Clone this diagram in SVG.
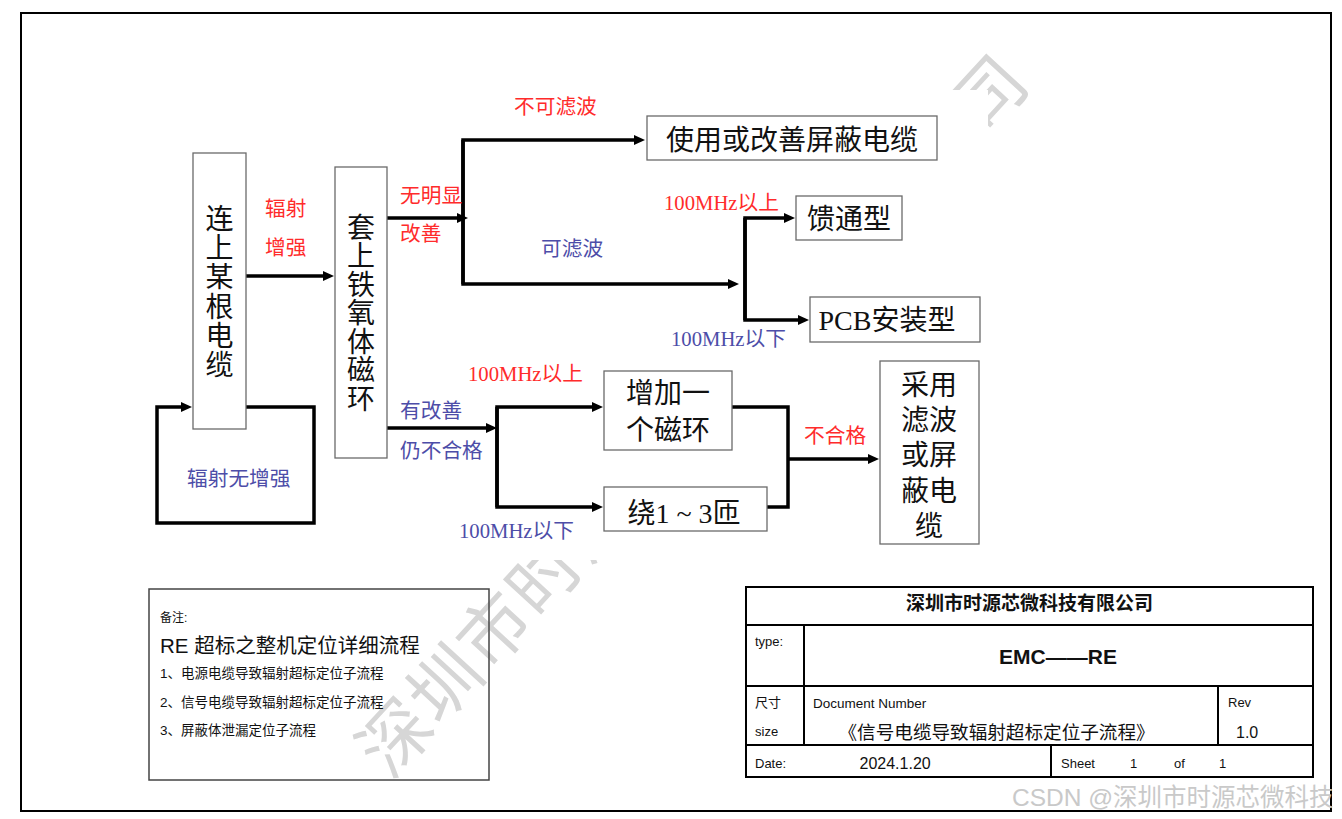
<svg xmlns="http://www.w3.org/2000/svg" width="1342" height="819" viewBox="0 0 1342 819">
<style>
.box{fill:#fff;stroke:#6a6a6a;stroke-width:1.3}
.bt{font-family:'Liberation Serif','Noto Sans CJK SC',serif;font-size:28px;fill:#111;text-anchor:middle}
.red{font-family:'Liberation Serif','Noto Sans CJK SC',serif;font-size:20.7px;fill:#ff2b2b}
.blue{font-family:'Liberation Serif','Noto Sans CJK SC',serif;font-size:20.7px;fill:#4d4da8}
.con{fill:none;stroke:#000;stroke-width:3.5;stroke-linejoin:miter}
.tb{fill:none;stroke:#000;stroke-width:2}
.s{font-family:'Liberation Sans','Noto Sans CJK SC',sans-serif;fill:#111}
.wm{font-family:'Noto Sans CJK SC',sans-serif;font-size:71px;fill:#d6d6d6;letter-spacing:2px}
</style>
<defs>
<marker id="ah" markerUnits="userSpaceOnUse" markerWidth="12" markerHeight="10" refX="5" refY="5" orient="auto">
<path d="M0,0 L11,5 L0,10 Z" fill="#000"/>
</marker>
<clipPath id="wmclip">
<path clip-rule="evenodd" d="M0,0 H1342 V819 H0 Z M150,90 V560 H988 V90 Z"/>
</clipPath>
</defs>
<rect width="1342" height="819" fill="#fff"/>
<g id="watermark" clip-path="url(#wmclip)">
<text class="wm" x="390" y="781" transform="rotate(-47.3 390 781)">深圳市时源芯微科技有限公司</text>
</g>
<rect id="frame" x="21" y="13" width="1310" height="798" fill="none" stroke="#000" stroke-width="2"/>

<g id="connectors">
<path class="con" d="M243,276 H328" marker-end="url(#ah)"/>
<path class="con" d="M243,407 H314 V523 H157 V407 H186" marker-end="url(#ah)"/>
<path class="con" d="M386,218 H462" marker-end="url(#ah)"/>
<path class="con" d="M463,284 V140 H639" marker-end="url(#ah)"/>
<path class="con" d="M463,140 V284 H733" marker-end="url(#ah)"/>
<path class="con" d="M745,320 V218 H789" marker-end="url(#ah)"/>
<path class="con" d="M745,218 V320 H803" marker-end="url(#ah)"/>
<path class="con" d="M386,428 H491" marker-end="url(#ah)"/>
<path class="con" d="M497,507 V407 H597" marker-end="url(#ah)"/>
<path class="con" d="M497,407 V507 H597" marker-end="url(#ah)"/>
<path class="con" d="M732,407 H788 V507 H767"/>
<path class="con" d="M788,459 H873" marker-end="url(#ah)"/>
</g>

<g id="labels">
<text class="red" x="265" y="215.5">辐射</text>
<text class="red" x="265" y="254.5">增强</text>
<text class="blue" x="187" y="485.5">辐射无增强</text>
<text class="red" x="400" y="202.5">无明显</text>
<text class="red" x="400" y="240.5">改善</text>
<text class="red" x="514" y="113.5">不可滤波</text>
<text class="blue" x="541" y="255.5">可滤波</text>
<text class="red" x="664" y="209.5">100MHz以上</text>
<text class="blue" x="671" y="345.5">100MHz以下</text>
<text class="blue" x="400" y="417.5">有改善</text>
<text class="blue" x="400" y="457.5">仍不合格</text>
<text class="red" x="468" y="380.5">100MHz以上</text>
<text class="blue" x="459" y="537.5">100MHz以下</text>
<text class="red" x="804" y="442.5">不合格</text>
</g>

<g id="n-cable">
<rect class="box" x="193" y="153" width="53" height="276"/>
<text class="bt" x="219.5" y="228.7"><tspan x="219.5">连</tspan><tspan x="219.5" dy="29.3">上</tspan><tspan x="219.5" dy="29.3">某</tspan><tspan x="219.5" dy="29.3">根</tspan><tspan x="219.5" dy="29.3">电</tspan><tspan x="219.5" dy="29.3">缆</tspan></text>
</g>
<g id="n-ferrite">
<rect class="box" x="335" y="167" width="52" height="291"/>
<text class="bt" x="361" y="237.5"><tspan x="361">套</tspan><tspan x="361" dy="28.5">上</tspan><tspan x="361" dy="28.5">铁</tspan><tspan x="361" dy="28.5">氧</tspan><tspan x="361" dy="28.5">体</tspan><tspan x="361" dy="28.5">磁</tspan><tspan x="361" dy="28.5">环</tspan></text>
</g>
<g id="n-shield">
<rect class="box" x="647" y="116" width="290" height="44"/>
<text class="bt" x="792" y="150">使用或改善屏蔽电缆</text>
</g>
<g id="n-feedthrough">
<rect class="box" x="796" y="196" width="106" height="44"/>
<text class="bt" x="849" y="229">馈通型</text>
</g>
<g id="n-pcb">
<rect class="box" x="810" y="297" width="170" height="45"/>
<text class="bt" x="887" y="330">PCB安装型</text>
</g>
<g id="n-addring">
<rect class="box" x="604" y="371" width="128" height="79"/>
<text class="bt" x="668" y="403">增加一</text>
<text class="bt" x="668" y="440">个磁环</text>
</g>
<g id="n-wind">
<rect class="box" x="604" y="487" width="163" height="44"/>
<text class="bt" x="684" y="523">绕1 ~ 3匝</text>
</g>
<g id="n-filter">
<rect class="box" x="880" y="361" width="99" height="183"/>
<text class="bt" x="929" y="395"><tspan x="929">采用</tspan><tspan x="929" dy="35.2">滤波</tspan><tspan x="929" dy="35.2">或屏</tspan><tspan x="929" dy="35.2">蔽电</tspan><tspan x="929" dy="35.2">缆</tspan></text>
</g>

<g id="legend">
<rect x="149" y="589" width="340" height="191" fill="none" stroke="#444" stroke-width="1.5"/>
<text class="s" x="160" y="621.5" font-size="12">备注:</text>
<text class="s" x="160" y="653" font-size="20.5">RE 超标之整机定位详细流程</text>
<text class="s" x="160" y="678" font-size="13.5">1、电源电缆导致辐射超标定位子流程</text>
<text class="s" x="160" y="707" font-size="13.5">2、信号电缆导致辐射超标定位子流程</text>
<text class="s" x="160" y="735" font-size="13.5">3、屏蔽体泄漏定位子流程</text>
</g>

<g id="titleblock">
<rect class="tb" x="746" y="587" width="567" height="190"/>
<path class="tb" d="M746,625 H1313 M746,686 H1313 M746,745 H1313 M804,625 V745 M1218,686 V745 M1051,745 V777"/>
<text class="s" x="1029.5" y="610" font-size="19" font-weight="bold" text-anchor="middle">深圳市时源芯微科技有限公司</text>
<text class="s" x="755" y="646" font-size="13">type:</text>
<text class="s" x="1058" y="664" font-size="21" font-weight="bold" text-anchor="middle">EMC——RE</text>
<text class="s" x="755" y="706.5" font-size="13">尺寸</text>
<text class="s" x="755" y="736" font-size="13">size</text>
<text class="s" x="813" y="707.5" font-size="13.5">Document Number</text>
<text x="838.5" y="738.5" font-size="18.6" font-family="'Liberation Serif','Noto Sans CJK SC',serif" fill="#111">《信号电缆导致辐射超标定位子流程》</text>
<text class="s" x="1228" y="707" font-size="13">Rev</text>
<text class="s" x="1236" y="737.5" font-size="16">1.0</text>
<text class="s" x="755" y="767.5" font-size="13">Date:</text>
<text class="s" x="859.5" y="769" font-size="16">2024.1.20</text>
<text class="s" x="1061" y="768" font-size="13">Sheet</text>
<text class="s" x="1130" y="768" font-size="13">1</text>
<text class="s" x="1174" y="768" font-size="13">of</text>
<text class="s" x="1219" y="768" font-size="13">1</text>
</g>

<text id="csdn" x="1012" y="806" font-family="'Liberation Sans','Noto Sans CJK SC',sans-serif" font-size="24.5" fill="#c9c9c9">CSDN @深圳市时源芯微科技</text>
</svg>
